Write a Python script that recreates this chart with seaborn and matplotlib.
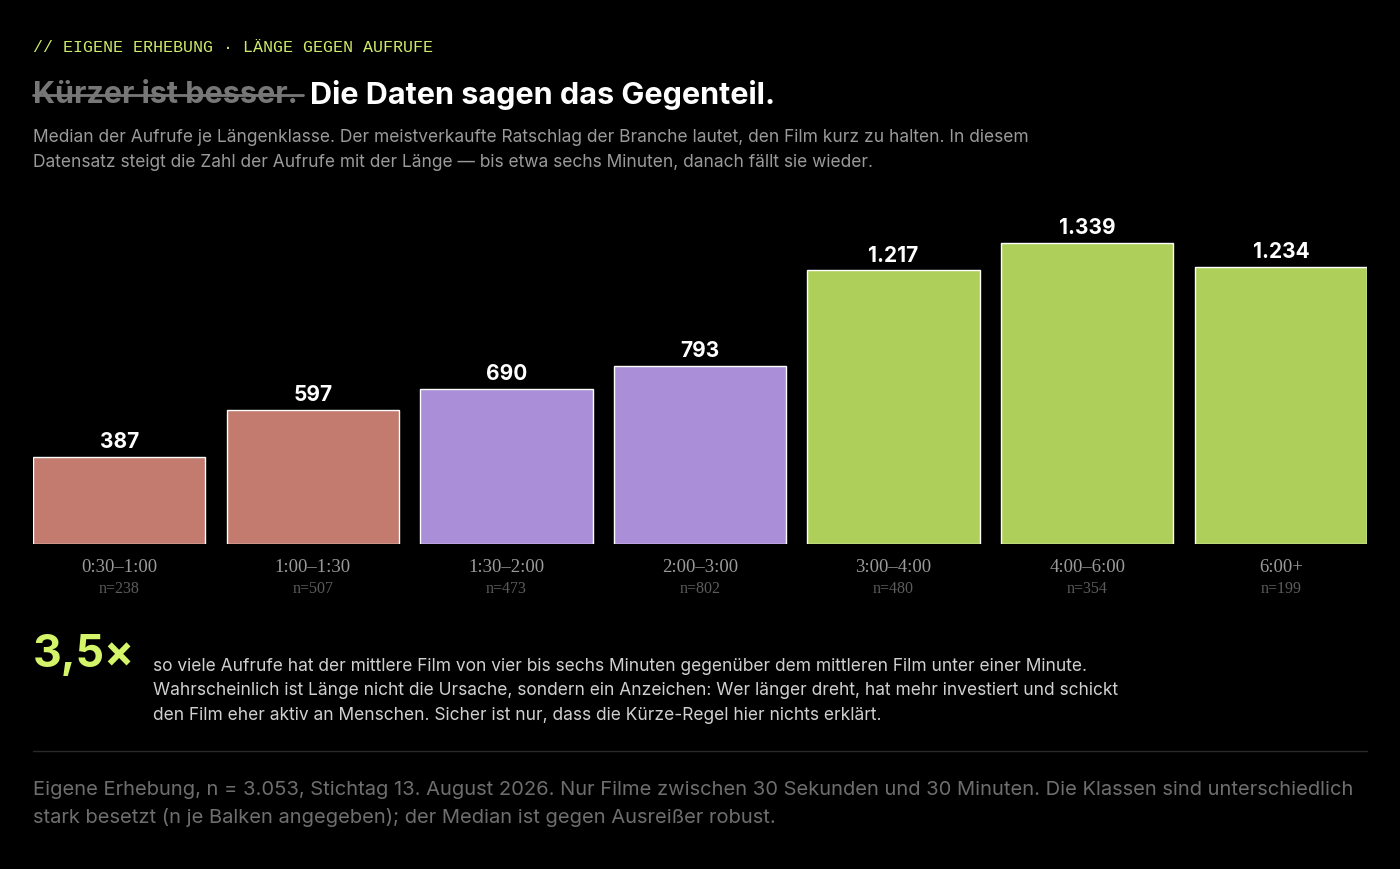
import matplotlib
matplotlib.use("Agg")
import matplotlib.pyplot as plt
import seaborn as sns
import pandas as pd

klassen = ["0:30–1:00", "1:00–1:30", "1:30–2:00", "2:00–3:00", "3:00–4:00", "4:00–6:00", "6:00+"]
median_aufrufe = [387, 597, 690, 793, 1217, 1339, 1234]
anzahl = [238, 507, 473, 802, 480, 354, 199]
gruppe = ["kurz", "kurz", "mittel", "mittel", "lang", "lang", "lang"]
farben = {"kurz": "#C27B6E", "mittel": "#AA8ED8", "lang": "#AED05A"}

sns.set_theme(style="dark")
plt.rcParams["font.family"] = ["Inter", "DejaVu Sans"]

df = pd.DataFrame({"Klasse": klassen, "Aufrufe": median_aufrufe, "Gruppe": gruppe})

fig = plt.figure(figsize=(14, 8.7), dpi=100, facecolor="black")
ax = fig.add_axes([33 / 1400, 1 - 545 / 870, 1334 / 1400, 345 / 870])
ax.set_facecolor("black")
sns.barplot(data=df, x="Klasse", y="Aufrufe", hue="Gruppe", palette=farben,
            dodge=False, width=0.89, legend=False, ax=ax, saturation=1)
ax.set_xlim(-0.445, 6.445)
ax.set_ylim(0, 1535)
ax.set_yticks([])
ax.set_xticks([])
ax.set_xlabel("")
ax.set_ylabel("")
for s in ax.spines.values():
    s.set_visible(False)
ax.grid(False)

for i, (v, n) in enumerate(zip(median_aufrufe, anzahl)):
    ax.text(i, v + 25, f"{v:,}".replace(",", "."), ha="center", va="bottom",
            color="white", fontsize=15, fontweight="bold")
    ax.text(i, -0.04, klassen[i], transform=ax.get_xaxis_transform(), ha="center", va="top",
            color="#9a9a9a", fontsize=13.5, family="Liberation Serif")
    ax.text(i, -0.105, f"n={n}", transform=ax.get_xaxis_transform(), ha="center", va="top",
            color="#5c5c5c", fontsize=11.5, family="Liberation Serif")

def fy(py):
    return 1 - py / 870

fig.text(33 / 1400, fy(48), "// EIGENE ERHEBUNG · LÄNGE GEGEN AUFRUFE", color="#CDEB6B",
         fontsize=12, family="Liberation Mono", va="center")
fig.text(33 / 1400, fy(95), "Kürzer ist besser.", color="#777777", fontsize=22,
         fontweight="bold", va="center")
fig.add_artist(plt.Line2D([33 / 1400, 303 / 1400], [fy(96), fy(96)], color="#777777", lw=2))
fig.text(310 / 1400, fy(95), "Die Daten sagen das Gegenteil.", color="white", fontsize=22,
         fontweight="bold", va="center")
fig.text(33 / 1400, fy(150),
         "Median der Aufrufe je Längenklasse. Der meistverkaufte Ratschlag der Branche lautet, den Film kurz zu halten. In diesem\n"
         "Datensatz steigt die Zahl der Aufrufe mit der Länge — bis etwa sechs Minuten, danach fällt sie wieder.",
         color="#9a9a9a", fontsize=12.5, va="center", linespacing=1.65)

fig.text(33 / 1400, fy(655), "3,5×", color="#D4F56A", fontsize=32, fontweight="bold", va="center")
fig.text(153 / 1400, fy(691),
         "so viele Aufrufe hat der mittlere Film von vier bis sechs Minuten gegenüber dem mittleren Film unter einer Minute.\n"
         "Wahrscheinlich ist Länge nicht die Ursache, sondern ein Anzeichen: Wer länger dreht, hat mehr investiert und schickt\n"
         "den Film eher aktiv an Menschen. Sicher ist nur, dass die Kürze-Regel hier nichts erklärt.",
         color="#d0d0d0", fontsize=12.5, va="center", linespacing=1.6)
fig.add_artist(plt.Line2D([33 / 1400, 1367 / 1400], [fy(752), fy(752)], color="#2a2a2a", lw=1))
fig.text(33 / 1400, fy(804),
         "Eigene Erhebung, n = 3.053, Stichtag 13. August 2026. Nur Filme zwischen 30 Sekunden und 30 Minuten. Die Klassen sind unterschiedlich\n"
         "stark besetzt (n je Balken angegeben); der Median ist gegen Ausreißer robust.",
         color="#6e6e6e", fontsize=14.5, va="center", linespacing=1.55)

fig.savefig("out.png", facecolor="black")
